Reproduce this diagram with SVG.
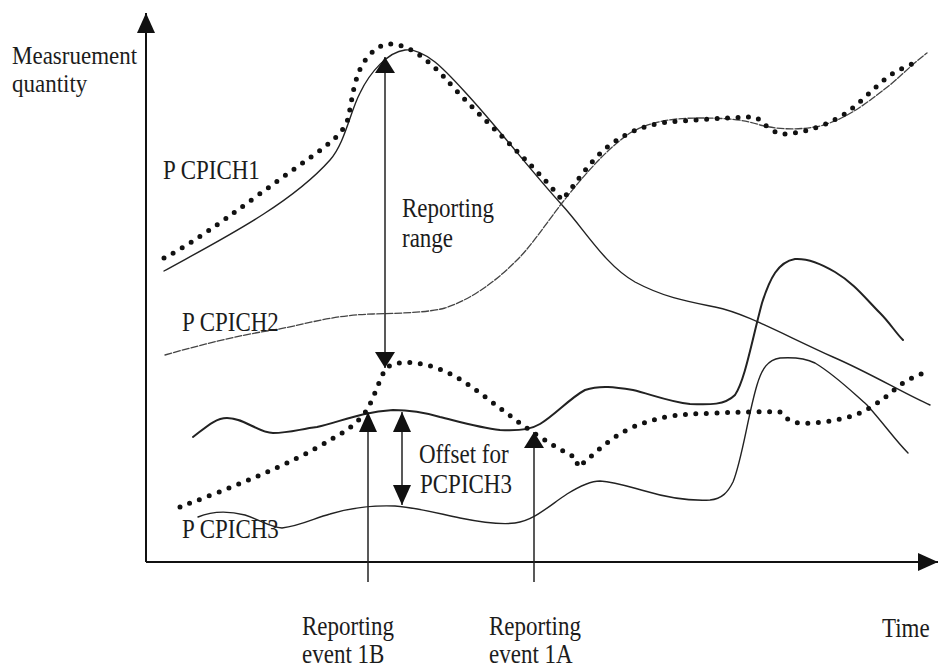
<svg xmlns="http://www.w3.org/2000/svg" width="939" height="668" viewBox="0 0 939 668">
<style>
.t{font-family:"Liberation Serif","Times New Roman",serif;font-size:23px;fill:#1c1c1c}
.sol{fill:none;stroke:#222;stroke-width:1.4;stroke-linecap:round;stroke-linejoin:round}
.bold{stroke-width:2}
.faint{stroke:#444;stroke-width:1.3;stroke-dasharray:7 2}
.dot{fill:none;stroke:#111;stroke-width:5;stroke-linecap:round;stroke-dasharray:0 10.5}
.ax{fill:none;stroke:#111;stroke-width:2}
.arr{fill:none;stroke:#222;stroke-width:1.5}
</style>
<defs>
<marker id="ah" viewBox="0 0 20 18" refX="20" refY="9" markerWidth="20" markerHeight="18" markerUnits="userSpaceOnUse" orient="auto-start-reverse">
<path d="M0,0 L20,9 L0,18 z" fill="#111"/>
</marker>
<marker id="ahs" viewBox="0 0 16 20" refX="16" refY="10" markerWidth="16" markerHeight="20" markerUnits="userSpaceOnUse" orient="auto-start-reverse">
<path d="M0,0 L16,10 L0,20 z" fill="#111"/>
</marker>
</defs>
<rect width="939" height="668" fill="#fff"/>

<g id="axes">
<line class="ax" x1="146" y1="562" x2="146" y2="13" marker-end="url(#ah)"/>
<line class="ax" x1="146" y1="562" x2="938" y2="562" marker-end="url(#ah)"/>
</g>

<g id="curves">
<path id="pcpich1" class="sol" d="M164,271 C220,240 290,205 330,160 C345,143 350,112 360,93 C370,72 388,52 405,50 C425,48 445,70 465,92 C500,130 530,170 562,205 C585,230 605,265 635,282 C665,298 690,302 715,307 C745,313 780,333 833,357 C870,373 905,394 930,405"/>
<path id="pcpich2" class="sol faint" d="M165,355 C200,345 240,335 273,330 C300,326 330,315 373,314 C410,313 430,312 445,308 C470,300 495,282 515,262 C530,248 545,225 562,203 C580,180 605,150 630,133 C650,122 670,118 700,118 C730,118 745,120 760,125 C780,130 800,130 820,126 C850,118 870,100 890,85 C905,72 915,62 927,53"/>
<path id="pcpich3-offset" class="sol bold" d="M193,437 C205,428 215,418 227,418 C245,418 258,433 273,433 C290,433 300,429 317,427 C340,422 360,412 393,410 C415,410 430,414 440,417 C460,422 480,428 500,430 C515,431 530,430 540,424 C555,415 570,398 585,390 C600,385 615,387 633,390 C650,394 670,402 690,404 C710,405 725,405 735,395 C745,380 752,340 762,303 C770,278 778,262 795,259 C810,258 825,266 835,272 C855,284 865,298 880,313 C890,323 895,332 903,340"/>
<path id="pcpich3" class="sol" d="M198,517 C210,512 225,510 245,515 C260,520 270,527 282,528 C300,526 315,518 330,514 C350,508 370,505 395,506 C420,508 440,514 460,518 C480,522 500,525 515,523 C535,520 550,505 567,494 C580,486 590,481 600,481 C615,482 630,487 645,491 C665,497 690,501 710,500 C722,499 728,492 733,482 C742,460 748,415 757,385 C762,368 768,360 780,358 C795,357 805,358 815,363 C835,375 850,390 867,405 C885,425 895,440 908,453"/>
<path id="best-upper" class="dot" d="M164,258 C200,240 250,200 300,165 C320,150 340,138 347,122 C352,105 352,85 362,65 C370,52 380,44 390,44 C410,44 430,62 445,78 C480,118 530,160 562,200 C575,185 590,160 610,145 C630,130 650,123 680,121 C710,119 740,117 755,117 C762,120 765,128 780,134 C800,134 820,128 840,117 C860,105 875,85 895,72 C905,67 910,65 912,64"/>
<path id="best-lower" class="dot" d="M180,507 C230,488 290,465 330,440 C345,432 360,422 368,408 C375,395 380,378 386,368 C395,362 405,362 415,363 C440,366 460,378 480,393 C500,408 520,424 540,437 C555,447 565,452 576,458 L578,467 L587,460 C600,448 615,435 633,427 C650,420 665,416 690,414 C720,413 760,411 780,412 C785,418 790,422 800,423 C815,424 835,421 852,416 C870,410 885,398 900,385 C910,378 920,374 928,372"/>
</g>

<g id="connectors">
<line class="arr" x1="385" y1="57" x2="385" y2="368" marker-start="url(#ahs)" marker-end="url(#ahs)"/>
<line class="arr" x1="368" y1="582" x2="368" y2="412" marker-end="url(#ah)"/>
<line class="arr" x1="402" y1="412" x2="402" y2="505" marker-start="url(#ah)" marker-end="url(#ah)"/>
<line class="arr" x1="534" y1="582" x2="534" y2="432" marker-end="url(#ahs)"/>
</g>

<g id="labels">
<text class="t" transform="translate(12,64) scale(1,1.12)">Measruement</text>
<text class="t" transform="translate(12,92) scale(1,1.12)">quantity</text>
<text class="t" transform="translate(163,179) scale(1,1.15)">P CPICH1</text>
<text class="t" transform="translate(402,217) scale(1,1.15)">Reporting</text>
<text class="t" transform="translate(402,247) scale(1,1.15)">range</text>
<text class="t" transform="translate(182,331) scale(1,1.15)">P CPICH2</text>
<text class="t" transform="translate(419,463) scale(1,1.15)">Offset for</text>
<text class="t" transform="translate(420,493) scale(1,1.15)">PCPICH3</text>
<text class="t" transform="translate(182,538) scale(1,1.15)">P CPICH3</text>
<text class="t" transform="translate(302,635) scale(1,1.15)">Reporting</text>
<text class="t" transform="translate(302,663) scale(1,1.15)">event 1B</text>
<text class="t" transform="translate(489,635) scale(1,1.15)">Reporting</text>
<text class="t" transform="translate(489,663) scale(1,1.15)">event 1A</text>
<text class="t" transform="translate(882,637) scale(1,1.15)">Time</text>
</g>
</svg>
